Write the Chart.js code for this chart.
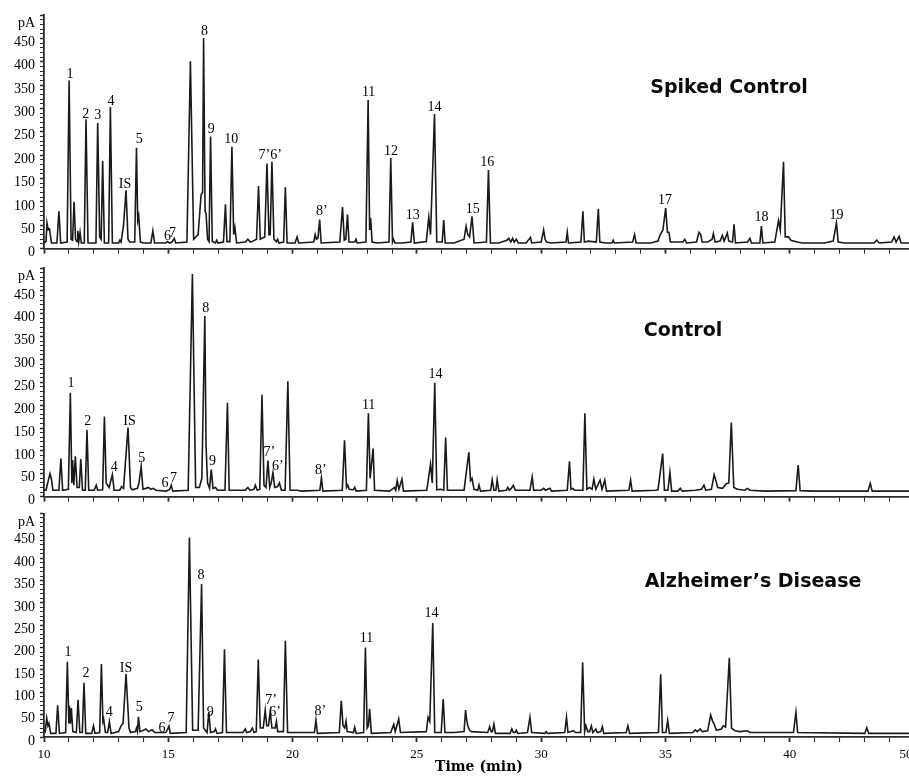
<!DOCTYPE html>
<html><head><meta charset="utf-8">
<script src="https://cdn.jsdelivr.net/npm/chart.js@4"></script>
<style>
html,body{margin:0;padding:0;background:#fff;width:909px;height:776px;overflow:hidden;}
#wrap{position:relative;width:909px;height:776px;overflow:hidden;background:#fff;}
canvas{position:absolute;left:0;}
.ttl{position:absolute;font-family:"DejaVu Sans",sans-serif;font-weight:bold;font-size:19px;line-height:1;color:#0a0a0a;transform:translate(-50%,-50%);white-space:nowrap;}
</style></head>
<body><div id="wrap">
<canvas id="c1" width="960" height="262" style="top:0px"></canvas>
<canvas id="c2" width="960" height="260" style="top:250px"></canvas>
<canvas id="c3" width="960" height="276" style="top:500px"></canvas>
<div class="ttl" style="left:729px;top:86px">Spiked Control</div>
<div class="ttl" style="left:683px;top:329px">Control</div>
<div class="ttl" style="left:753px;top:580px">Alzheimer’s Disease</div>
</div>
<script>
// ---- data: [time (min), signal (pA)] ----
const xTickLabels = ['10','15','20','25','30','35','40','50     '];

const spikedTrace = [[10.00,12],[10.08,15],[10.12,55],[10.17,40],[10.22,42],[10.30,12],[10.52,12],[10.60,80],[10.67,12],[10.93,14],[11.01,360],[11.09,20],[11.15,18],[11.21,100],[11.27,20],[11.33,15],[11.36,38],[11.40,15],[11.45,35],[11.50,12],[11.62,12],[11.69,277],[11.77,12],[12.09,12],[12.16,269],[12.24,25],[12.30,20],[12.36,188],[12.43,12],[12.60,12],[12.67,303],[12.75,12],[13.00,12],[13.05,18],[13.10,14],[13.20,50],[13.30,125],[13.38,20],[13.45,14],[13.65,14],[13.72,216],[13.77,60],[13.81,70],[13.88,14],[14.00,12],[14.30,12],[14.38,38],[14.45,12],[14.90,12],[14.97,15],[15.05,12],[15.15,14],[15.24,22],[15.30,12],[15.75,14],[15.89,401],[16.02,20],[16.20,30],[16.32,115],[16.38,120],[16.42,451],[16.48,80],[16.52,75],[16.58,20],[16.64,15],[16.70,240],[16.77,15],[16.90,12],[16.95,18],[17.00,12],[17.22,14],[17.30,95],[17.36,15],[17.48,15],[17.56,218],[17.63,30],[17.68,45],[17.75,12],[18.10,14],[18.20,20],[18.30,14],[18.40,16],[18.55,20],[18.63,134],[18.70,20],[18.88,25],[18.97,182],[19.05,30],[19.10,30],[19.17,186],[19.25,20],[19.35,15],[19.40,20],[19.45,12],[19.64,14],[19.71,131],[19.78,12],[20.10,12],[20.18,25],[20.25,12],[20.85,14],[20.91,30],[20.96,20],[21.02,22],[21.09,62],[21.15,12],[21.90,14],[22.01,89],[22.08,18],[22.14,20],[22.21,73],[22.27,14],[22.50,14],[22.55,20],[22.60,12],[22.95,14],[23.04,318],[23.10,40],[23.14,66],[23.20,14],[23.40,12],[23.88,14],[23.95,194],[24.02,14],[24.06,20],[24.12,12],[24.40,12],[24.76,14],[24.83,56],[24.90,12],[25.38,15],[25.48,67],[25.55,30],[25.71,288],[25.80,14],[26.02,14],[26.08,61],[26.14,12],[26.50,12],[26.90,20],[26.98,48],[27.05,30],[27.12,25],[27.22,69],[27.30,12],[27.80,14],[27.88,168],[27.96,12],[28.30,12],[28.62,18],[28.70,22],[28.78,14],[28.85,22],[28.92,14],[29.00,20],[29.08,12],[29.40,12],[29.57,24],[29.62,12],[30.00,14],[30.10,40],[30.16,20],[30.22,14],[30.40,12],[31.00,14],[31.05,35],[31.10,12],[31.60,14],[31.68,80],[31.74,14],[31.90,16],[32.22,14],[32.30,85],[32.36,14],[32.60,12],[32.85,12],[32.90,18],[32.95,12],[33.68,14],[33.76,30],[33.82,12],[34.40,12],[34.70,16],[34.77,27],[34.90,40],[35.01,87],[35.08,35],[35.14,35],[35.20,14],[35.70,14],[35.78,20],[35.85,12],[36.25,14],[36.35,35],[36.42,30],[36.48,14],[36.70,14],[36.88,20],[36.93,32],[37.00,14],[37.20,16],[37.29,28],[37.36,16],[37.49,33],[37.55,16],[37.70,14],[37.76,52],[37.82,12],[38.30,14],[38.40,22],[38.46,12],[38.80,12],[38.86,48],[38.92,12],[39.40,14],[39.55,60],[39.62,40],[39.75,186],[39.82,25],[39.95,25],[40.05,18],[40.30,14],[40.50,12],[41.40,12],[41.75,16],[41.88,55],[41.95,14],[42.20,12],[43.40,12],[43.50,18],[43.60,12],[44.10,14],[44.20,25],[44.28,14],[44.40,26],[44.48,12],[45.00,12]];

const controlTrace = [[10.00,15],[10.08,14],[10.24,50],[10.30,38],[10.36,14],[10.60,14],[10.68,83],[10.75,14],[10.98,16],[11.06,227],[11.12,30],[11.15,80],[11.20,25],[11.26,88],[11.33,20],[11.42,20],[11.48,82],[11.55,14],[11.66,14],[11.73,146],[11.80,14],[12.02,14],[12.10,25],[12.16,14],[12.36,15],[12.43,175],[12.50,30],[12.62,20],[12.75,48],[12.82,14],[13.05,14],[13.12,22],[13.20,18],[13.38,151],[13.48,20],[13.55,15],[13.76,18],[13.82,30],[13.91,66],[13.98,16],[14.10,18],[14.20,20],[14.30,16],[14.40,18],[14.50,14],[14.90,12],[15.05,15],[15.12,25],[15.18,12],[15.80,14],[15.97,487],[16.10,20],[16.25,20],[16.35,40],[16.47,395],[16.52,110],[16.58,30],[16.66,18],[16.73,59],[16.80,18],[16.90,20],[16.98,14],[17.28,14],[17.38,205],[17.45,14],[18.10,14],[18.20,20],[18.28,14],[18.45,16],[18.50,25],[18.58,14],[18.68,16],[18.77,223],[18.85,25],[18.93,20],[19.01,79],[19.08,20],[19.14,30],[19.21,52],[19.28,20],[19.40,22],[19.47,30],[19.55,14],[19.70,14],[19.81,252],[19.90,14],[20.20,14],[20.35,12],[21.10,14],[21.16,41],[21.22,12],[22.00,14],[22.09,123],[22.17,20],[22.22,25],[22.28,16],[22.45,15],[22.50,20],[22.56,12],[22.97,14],[23.05,182],[23.12,40],[23.24,105],[23.30,14],[23.90,12],[24.10,20],[24.15,14],[24.21,35],[24.28,16],[24.40,38],[24.46,12],[25.40,14],[25.55,71],[25.62,30],[25.72,249],[25.80,15],[25.95,16],[26.08,14],[26.16,129],[26.23,14],[26.90,14],[27.09,97],[27.16,35],[27.22,40],[27.30,16],[27.45,14],[27.50,25],[27.56,12],[27.97,14],[28.03,37],[28.10,14],[28.18,14],[28.23,37],[28.30,12],[28.60,14],[28.66,20],[28.72,14],[28.80,18],[28.88,25],[28.96,14],[29.55,14],[29.64,43],[29.70,14],[30.00,14],[30.10,18],[30.18,14],[30.35,18],[30.42,12],[31.05,14],[31.14,77],[31.20,16],[31.28,18],[31.35,14],[31.68,14],[31.76,182],[31.84,16],[31.95,20],[32.05,16],[32.12,38],[32.20,16],[32.37,36],[32.45,16],[32.56,36],[32.63,12],[33.53,14],[33.60,36],[33.66,12],[34.60,14],[34.70,15],[34.89,94],[34.96,14],[35.10,14],[35.18,53],[35.25,12],[35.50,12],[35.60,18],[35.68,12],[36.20,14],[36.45,16],[36.55,25],[36.62,14],[36.85,16],[36.96,48],[37.03,35],[37.10,20],[37.30,18],[37.45,28],[37.55,30],[37.65,162],[37.75,20],[37.90,16],[38.20,14],[38.30,18],[38.40,14],[39.00,12],[40.25,13],[40.34,69],[40.42,13],[41.00,12],[43.15,12],[43.24,29],[43.32,12],[45.00,12]];

const alzheimerTrace = [[10.00,15],[10.05,12],[10.11,42],[10.16,25],[10.20,30],[10.27,8],[10.48,8],[10.55,71],[10.62,8],[10.87,10],[10.94,168],[11.00,30],[11.02,70],[11.06,30],[11.10,65],[11.16,12],[11.30,10],[11.37,83],[11.44,10],[11.54,10],[11.61,121],[11.68,8],[11.92,8],[11.99,25],[12.05,8],[12.24,10],[12.31,163],[12.37,35],[12.40,40],[12.47,10],[12.56,10],[12.63,34],[12.70,8],[13.00,12],[13.10,25],[13.18,30],[13.30,141],[13.37,70],[13.42,20],[13.48,10],[13.68,12],[13.72,20],[13.76,12],[13.80,45],[13.86,12],[14.00,15],[14.10,18],[14.20,12],[14.35,16],[14.45,10],[14.90,10],[14.98,18],[15.03,24],[15.08,8],[15.72,10],[15.85,446],[15.98,15],[16.20,15],[16.34,342],[16.42,20],[16.56,10],[16.63,56],[16.70,10],[16.85,12],[16.90,18],[16.96,8],[17.18,10],[17.26,196],[17.34,10],[18.00,10],[18.10,18],[18.15,10],[18.30,12],[18.38,20],[18.45,10],[18.54,12],[18.62,173],[18.70,20],[18.82,20],[18.90,60],[18.96,25],[19.03,25],[19.10,56],[19.17,20],[19.30,20],[19.35,35],[19.40,12],[19.63,12],[19.71,215],[19.80,10],[20.20,10],[20.88,10],[20.94,38],[21.00,8],[21.88,10],[21.96,81],[22.03,25],[22.10,20],[22.15,35],[22.20,12],[22.45,10],[22.50,22],[22.56,8],[22.86,10],[22.93,200],[23.00,20],[23.05,25],[23.10,63],[23.17,8],[23.95,10],[24.07,28],[24.13,12],[24.27,40],[24.34,10],[25.38,12],[25.45,44],[25.52,35],[25.64,255],[25.72,10],[25.98,10],[26.06,85],[26.13,10],[26.50,10],[26.90,12],[26.96,60],[27.00,40],[27.05,25],[27.12,15],[27.20,12],[27.85,10],[27.93,23],[27.99,12],[28.04,12],[28.10,29],[28.16,8],[28.75,8],[28.82,18],[28.88,10],[28.95,10],[29.00,15],[29.06,8],[29.45,10],[29.55,44],[29.62,10],[30.15,8],[30.20,12],[30.26,8],[30.95,10],[31.02,44],[31.08,10],[31.30,14],[31.38,10],[31.59,10],[31.67,167],[31.75,12],[31.80,25],[31.88,12],[31.95,12],[32.02,25],[32.08,10],[32.20,18],[32.26,10],[32.40,12],[32.46,23],[32.52,8],[33.42,10],[33.49,25],[33.56,8],[34.72,10],[34.81,140],[34.88,10],[35.02,10],[35.09,37],[35.16,8],[36.10,10],[36.20,16],[36.28,12],[36.40,18],[36.48,12],[36.70,14],[36.82,49],[36.90,35],[36.95,30],[37.05,15],[37.25,18],[37.33,25],[37.42,22],[37.57,177],[37.66,20],[37.80,14],[38.00,12],[38.30,14],[38.40,10],[40.15,10],[40.25,55],[40.32,10],[43.02,8],[43.10,21],[43.18,8],[45.00,8]];

// peak annotations: [text, time (min), pA]
const spikedLabels = [['1',11.05,372],['2',11.68,288],['3',12.16,285],['4',12.70,316],['IS',13.26,138],['5',13.83,234],['6',14.97,27],['7',15.17,32],['8',16.46,465],['9',16.73,256],['10',17.53,234],['7’6’',19.10,200],['8’',21.18,80],['11',23.06,334],['12',23.96,209],['13',24.83,71],['14',25.71,302],['15',27.25,85],['16',27.83,184],['17',34.98,103],['18',38.86,66],['19',41.88,71]];
const controlLabels = [['1',11.09,247],['2',11.76,165],['4',12.83,63],['IS',13.44,165],['5',13.93,84],['6',14.87,30],['7',15.21,41],['8',16.51,411],['9',16.78,77],['7’',19.07,97],['6’',19.41,66],['8’',21.14,57],['11',23.06,200],['14',25.75,267]];
const alzheimerLabels = [['1',10.97,190],['2',11.69,143],['4',12.62,56],['IS',13.30,154],['5',13.83,67],['6',14.75,20],['7',15.11,42],['8',16.32,362],['9',16.69,56],['7’',19.14,83],['6’',19.30,56],['8’',21.12,58],['11',22.97,221],['14',25.59,277]];

// ---- drawing ----
const peakLabelPlugin = {
  id: 'peakLabels',
  afterDatasetsDraw(chart, args, opts) {
    const {ctx, scales: {x, y}} = chart;
    ctx.save();
    ctx.font = '14px "Liberation Serif", serif';
    ctx.fillStyle = '#000';
    ctx.textAlign = 'center';
    ctx.textBaseline = 'middle';
    (opts.items || []).forEach(([txt, t, v]) => {
      ctx.fillText(txt, x.getPixelForValue(t), y.getPixelForValue(v));
    });
    ctx.restore();
  }
};

const serif = '"Liberation Serif", serif';

function makePanel(id, trace, labels, padTop, xHeight, isBottom) {
  new Chart(document.getElementById(id), {
    type: 'line',
    data: {
      datasets: [{
        data: trace.map(p => ({x: p[0], y: p[1]})),
        borderColor: '#1a1a1a',
        borderWidth: 1.6,
        pointRadius: 0,
        tension: 0,
        fill: false
      }]
    },
    options: {
      responsive: false,
      animation: false,
      events: [],
      layout: {padding: {top: padTop, left: 0, right: 46, bottom: 0}},
      plugins: {
        legend: {display: false},
        tooltip: {enabled: false},
        peakLabels: {items: labels}
      },
      scales: {
        x: {
          type: 'linear', min: 10, max: 45,
          border: {display: true, color: '#2a2a2a', width: 1.8},
          grid: {
            drawOnChartArea: false, drawTicks: true, tickLength: 5,
            tickColor: '#2a2a2a',
            tickWidth: c => (c.tick && Math.round(c.tick.value) % 5 === 0) ? 1.8 : 1.1
          },
          ticks: {
            stepSize: 1, autoSkip: false, maxRotation: 0, minRotation: 0,
            color: '#000', padding: 5,
            font: {family: serif, size: 13},
            callback: v => {
              const r = Math.round(v);
              return (isBottom && r % 5 === 0) ? xTickLabels[(r - 10) / 5] : '';
            }
          },
          title: isBottom ? {
            display: true, text: 'Time (min)', color: '#000',
            font: {family: '"DejaVu Serif", serif', weight: 'bold', size: 14},
            padding: 0
          } : {display: false},
          afterFit: s => { s.height = xHeight; }
        },
        y: {
          type: 'linear', min: 0, max: 500,
          border: {display: true, color: '#2a2a2a', width: 1.8},
          grid: {
            drawOnChartArea: false, drawTicks: true, tickLength: 4,
            tickColor: '#2a2a2a',
            tickWidth: c => (c.tick && Math.round(c.tick.value) % 50 === 0) ? 1.5 : 1
          },
          ticks: {
            stepSize: 10, autoSkip: false, labelOffset: 4, padding: 5,
            color: '#000',
            font: {family: serif, size: 14},
            callback: v => {
              const r = Math.round(v);
              if (r === 490) return 'pA';
              return (r % 50 === 0 && r <= 450) ? String(r) : '';
            }
          },
          afterFit: s => { s.width = 44; }
        }
      }
    },
    plugins: [peakLabelPlugin]
  });
}

makePanel('c1', spikedTrace, spikedLabels, 15, 11, false);
makePanel('c2', controlTrace, controlLabels, 18, 11, false);
makePanel('c3', alzheimerTrace, alzheimerLabels, 13, 39, true);
</script>
</body></html>
